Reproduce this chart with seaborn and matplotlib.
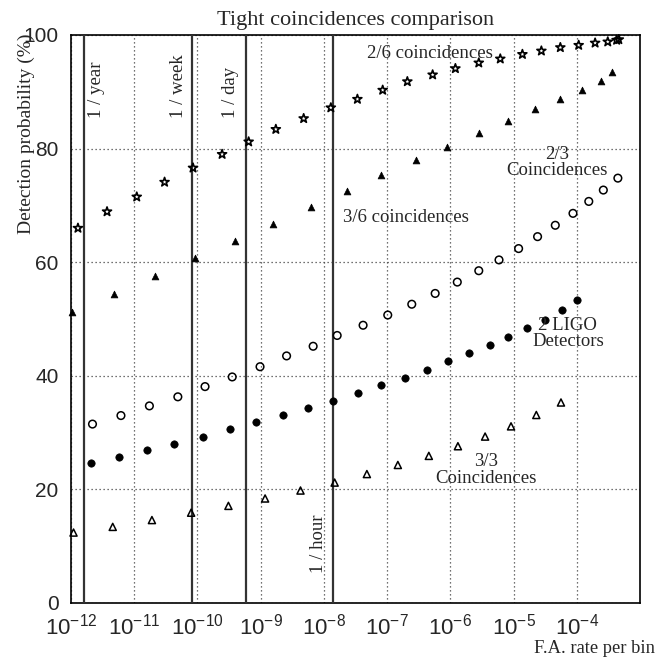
import numpy as np
import pandas as pd
import matplotlib
matplotlib.use("Agg")
import matplotlib.pyplot as plt
import seaborn as sns
from matplotlib.ticker import FixedLocator, LogLocator, MultipleLocator, LogFormatterMathtext, NullFormatter

# ---------------- data (log10 of F.A. rate per bin, detection probability %) ----------------
log_fa_26 = [-11.89, -11.43, -10.96, -10.52, -10.07, -9.61, -9.19, -8.76, -8.32, -7.89,
             -7.47, -7.07, -6.68, -6.28, -5.92, -5.55, -5.21, -4.86, -4.56, -4.26,
             -3.97, -3.71, -3.51, -3.37, -3.335]
det_26 = [66.0, 68.9, 71.5, 74.1, 76.6, 79.0, 81.2, 83.4, 85.3, 87.2,
          88.7, 90.3, 91.8, 93.0, 94.1, 95.1, 95.8, 96.6, 97.2, 97.8,
          98.2, 98.6, 98.8, 99.1, 99.2]

log_fa_36 = [-11.98, -11.32, -10.67, -10.04, -9.41, -8.80, -8.21, -7.63, -7.09, -6.55,
             -6.06, -5.55, -5.09, -4.66, -4.26, -3.91, -3.62, -3.45]
det_36 = [51.2, 54.4, 57.6, 60.7, 63.8, 66.7, 69.8, 72.6, 75.4, 78.0,
          80.3, 82.7, 84.9, 86.9, 88.7, 90.4, 91.9, 93.4]

log_fa_23 = [-11.66, -11.21, -10.76, -10.31, -9.88, -9.45, -9.01, -8.59, -8.17, -7.79,
             -7.38, -6.99, -6.61, -6.24, -5.89, -5.55, -5.23, -4.92, -4.62, -4.34,
             -4.06, -3.81, -3.58, -3.35]
det_23 = [31.5, 33.0, 34.7, 36.3, 38.1, 39.8, 41.6, 43.5, 45.2, 47.1,
          48.9, 50.7, 52.6, 54.5, 56.5, 58.5, 60.4, 62.4, 64.5, 66.5,
          68.6, 70.7, 72.7, 74.8]

log_fa_ligo = [-11.69, -11.24, -10.79, -10.37, -9.92, -9.49, -9.07, -8.65, -8.25, -7.86,
               -7.46, -7.09, -6.72, -6.37, -6.03, -5.71, -5.38, -5.08, -4.79, -4.50,
               -4.24, -3.99]
det_ligo = [24.7, 25.7, 26.9, 28.0, 29.3, 30.6, 31.8, 33.1, 34.4, 35.6,
            37.0, 38.3, 39.7, 41.1, 42.6, 44.0, 45.4, 46.8, 48.4, 49.9,
            51.5, 53.3]

log_fa_33 = [-11.96, -11.34, -10.72, -10.10, -9.51, -8.93, -8.37, -7.83, -7.32, -6.83,
             -6.34, -5.88, -5.45, -5.04, -4.64, -4.25]
det_33 = [12.4, 13.4, 14.6, 15.9, 17.1, 18.4, 19.8, 21.2, 22.7, 24.3,
          25.9, 27.6, 29.3, 31.1, 33.1, 35.3]

# rate markers: 1 false alarm per period, for bins of 5e-5 s
bin_duration_s = 5e-5
period_labels = ["1 / year", "1 / week", "1 / day", "1 / hour"]
period_seconds = [3.156e7, 604800.0, 86400.0, 3600.0]

x_tick_exponents = list(range(-12, -3))
y_ticks = [0, 20, 40, 60, 80, 100]

# ---------------- style ----------------
sns.set_style("white")
plt.rcParams["font.family"] = ["Liberation Serif", "DejaVu Serif"]
plt.rcParams["mathtext.fontset"] = "custom"
plt.rcParams["mathtext.rm"] = "Liberation Sans"
plt.rcParams["mathtext.it"] = "Liberation Sans:italic"
plt.rcParams["mathtext.bf"] = "Liberation Sans:bold"
plt.rcParams["mathtext.default"] = "rm"

fig = plt.figure(figsize=(6.7, 6.62), dpi=100)
ax = fig.add_axes([71 / 670, 59 / 662, 569 / 670, 568 / 662])

def to_df(logx, y):
    return pd.DataFrame({"rate": 10 ** np.asarray(logx), "prob": y})

common = dict(ax=ax, legend=False, clip_on=False, zorder=5)
sns.scatterplot(data=to_df(log_fa_26, det_26), x="rate", y="prob", marker="*", s=46,
                facecolors="none", edgecolor="black", linewidth=1.2, **common)
sns.scatterplot(data=to_df(log_fa_36, det_36), x="rate", y="prob", marker="^", s=24,
                color="black", edgecolor="black", linewidth=0.5, **common)
sns.scatterplot(data=to_df(log_fa_23, det_23), x="rate", y="prob", marker="o", s=30,
                facecolors="none", edgecolor="black", linewidth=1.1, **common)
sns.scatterplot(data=to_df(log_fa_ligo, det_ligo), x="rate", y="prob", marker="o", s=28,
                color="black", edgecolor="black", linewidth=0.5, **common)
sns.scatterplot(data=to_df(log_fa_33, det_33), x="rate", y="prob", marker="^", s=26,
                facecolors="none", edgecolor="black", linewidth=1.1, **common)

ax.set_xscale("log")
ax.set_xlim(1e-12, 1e-3)
ax.set_ylim(0, 100)

# vertical rate lines
rates = [bin_duration_s / T for T in period_seconds]
for r in rates:
    ax.axvline(r, color="#333333", lw=1.6, zorder=3)

fs = 13.5
label_dx = [0.21, -0.22, -0.24, -0.23]  # offset in decades (right/left of line)
label_y = [85.4, 85.4, 85.4, 5.2]
for lab, r, dx, yb in zip(period_labels, rates, label_dx, label_y):
    ax.text(r * 10 ** dx, yb, lab, rotation=90, ha="center", va="bottom", fontsize=fs, zorder=6)

# series annotations
ax.text(10 ** -6.33, 96.8, "2/6 coincidences", ha="center", va="center", fontsize=fs, zorder=6)
ax.text(10 ** -6.71, 67.8, "3/6 coincidences", ha="center", va="center", fontsize=fs, zorder=6)
ax.text(10 ** -4.31, 77.5, "2/3\nCoincidences", ha="center", va="center", fontsize=fs,
        linespacing=0.95, zorder=6)
ax.text(10 ** -4.14, 47.4, "2 LIGO\nDetectors", ha="center", va="center", fontsize=fs,
        linespacing=0.95, zorder=6)
ax.text(10 ** -5.44, 23.4, "3/3\nCoincidences", ha="center", va="center", fontsize=fs,
        linespacing=0.95, zorder=6)

# ticks
ax.xaxis.set_major_locator(FixedLocator([10.0 ** e for e in x_tick_exponents]))
ax.xaxis.set_major_formatter(LogFormatterMathtext())
ax.xaxis.set_minor_locator(LogLocator(base=10, subs=np.arange(2, 10), numticks=100))
ax.xaxis.set_minor_formatter(NullFormatter())
ax.yaxis.set_major_locator(FixedLocator(y_ticks))
ax.yaxis.set_minor_locator(MultipleLocator(5))
ax.tick_params(which="both", direction="in", top=False, right=False, width=1.0, color="black")
ax.tick_params(which="major", length=8.5)
ax.tick_params(which="minor", length=4.2)
ax.tick_params(axis="x", which="major", pad=7.5, labelsize=16)
ax.tick_params(axis="y", which="major", pad=9, labelsize=15)
for lab in ax.get_xticklabels() + ax.get_yticklabels():
    lab.set_fontfamily("Liberation Sans")

ax.grid(True, which="major", linestyle=(0, (1, 2.2)), color="#444444", lw=0.9)
ax.set_axisbelow(True)
for sp in ax.spines.values():
    sp.set_visible(True)
    sp.set_color("black")
    sp.set_linewidth(1.2)

ax.set_xlabel("")
ax.set_ylabel("")
fig.text(355.5 / 670, 1 - 25 / 662, "Tight coincidences comparison", ha="center",
         va="baseline", fontsize=16)
fig.text(26 / 670, 1 - 33 / 662, "Detection probability (%)", rotation=90, ha="center",
         va="top", fontsize=14)
fig.text(655 / 670, 1 - 653 / 662, "F.A. rate per bin", ha="right", va="baseline", fontsize=13.3)

fig.savefig("out.png", dpi=100)
